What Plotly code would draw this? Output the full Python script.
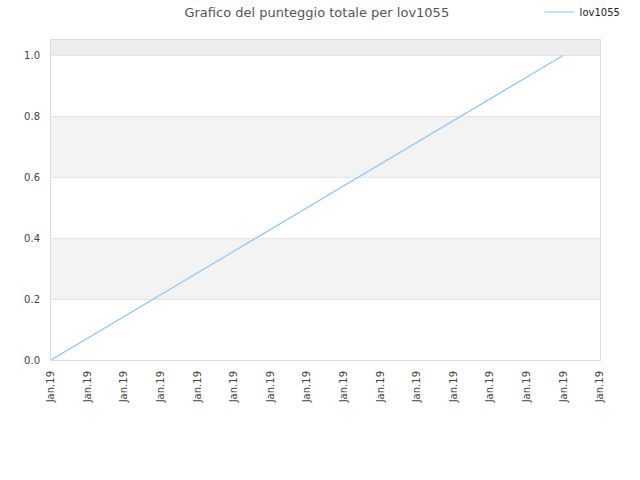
import plotly.graph_objects as go

# data
series_name = "lov1055"
x_idx = [0, 14]
scores = [0.0, 1.0]
tick_pos = list(range(16))
tick_labels = ["Jan.19"] * 16
band_edges = [(0.2, 0.4), (0.6, 0.8)]
top_band = (1.0, 1.05)

fig = go.Figure()
fig.add_trace(go.Scatter(
    x=x_idx, y=scores, mode="lines", name=series_name,
    line=dict(color="#92c5f7", width=1.2),
))

shapes = []
for lo, hi in band_edges:
    shapes.append(dict(type="rect", xref="paper", yref="y", x0=0, x1=1,
                       y0=lo, y1=hi, fillcolor="#f3f3f3", line_width=0,
                       layer="below"))
shapes.append(dict(type="rect", xref="paper", yref="y", x0=0, x1=1,
                   y0=top_band[0], y1=top_band[1], fillcolor="#eeeeee",
                   line_width=0, layer="below"))

fig.update_layout(
    width=640, height=480,
    title=dict(text="Grafico del punteggio totale per lov1055", x=0.495, y=0.975,
               xanchor="center", yanchor="middle",
               font=dict(size=13, color="#555555")),
    font=dict(family="DejaVu Sans", size=10, color="#444444"),
    paper_bgcolor="white", plot_bgcolor="white",
    margin=dict(l=51, r=40, t=40, b=120, autoexpand=False),
    shapes=shapes,
    showlegend=True,
    legend=dict(x=0.89, y=1.0875, xanchor="left", yanchor="middle",
                font=dict(size=10, color="#222222"), bgcolor="rgba(0,0,0,0)",
                itemwidth=30),
    xaxis=dict(range=[0, 15], tickvals=tick_pos, ticktext=tick_labels,
               tickangle=-90, showgrid=False, zeroline=False,
               showline=True, linecolor="#dddddd", mirror=True,
               ticks="", ticklabelstandoff=6,
               tickfont=dict(size=10, color="#444444")),
    yaxis=dict(range=[0, 1.05], tickvals=[0, 0.2, 0.4, 0.6, 0.8, 1.0],
               ticktext=["0.0", "0.2", "0.4", "0.6", "0.8", "1.0"],
               showgrid=True, gridcolor="#e4e4e4", zeroline=False,
               showline=True, linecolor="#dddddd", mirror=True,
               ticks="", ticklabelstandoff=8,
               tickfont=dict(size=10, color="#444444")),
)

# drop the default page margin so the figure sits at the window corner
fig.write_html("out.html", config={"displayModeBar": False},
               post_script="document.body.style.margin='0';")
